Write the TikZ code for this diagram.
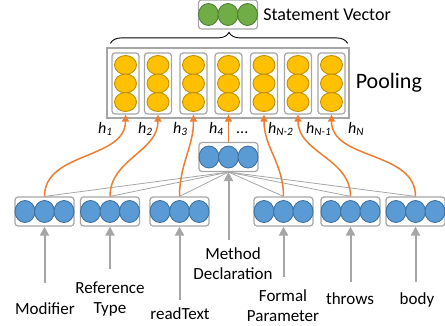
\documentclass[tikz,border=0pt]{standalone}
\usepackage{fontspec}
\setmainfont{Carlito}
\usetikzlibrary{positioning,arrows.meta,decorations.pathreplacing}

\definecolor{boxgray}{HTML}{A6A6A6}
\definecolor{linkorange}{HTML}{ED7D31}
\definecolor{cellblue}{HTML}{5B9BD5}
\definecolor{edgeblue}{HTML}{41719C}
\definecolor{cellyellow}{HTML}{FFC000}
\definecolor{edgeyellow}{HTML}{BF9000}
\definecolor{cellgreen}{HTML}{70AD47}
\definecolor{edgegreen}{HTML}{507E32}

\tikzset{
  vecbox/.style={draw=boxgray, line width=1.2pt, rounded corners=3pt, minimum width=59pt, minimum height=29pt, inner sep=0pt},
  colbox/.style={draw=boxgray, line width=1.2pt, rounded corners=3pt, minimum width=27pt, minimum height=61pt, inner sep=0pt},
  poolbox/.style={draw=boxgray, line width=1.2pt, minimum width=242pt, minimum height=70pt, inner sep=0pt},
  bluecell/.style={fill=cellblue, draw=edgeblue, line width=0.9pt},
  yellowcell/.style={fill=cellyellow, draw=edgeyellow, line width=0.9pt},
  greencell/.style={fill=cellgreen, draw=edgegreen, line width=0.9pt},
  lbl/.style={inner sep=0pt, font=\fontsize{17}{20}\selectfont, align=center},
  hlbl/.style={inner sep=0pt, font=\fontsize{16}{19}\selectfont\itshape, anchor=base west},
  inarrow/.style={draw=boxgray, line width=2pt, -{Triangle[width=9pt,length=9pt]}},
  fanline/.style={draw=boxgray, line width=0.8pt},
  hidarrow/.style={draw=linkorange, line width=1.5pt, -{Triangle[width=7pt,length=7pt]}},
}

\begin{document}
\begin{tikzpicture}[x=1pt,y=-1pt]

    \useasboundingbox (0,0) rectangle (445,325);

    % Statement vector
    \node[vecbox] (stmt) at (228,14.5) {};
    \foreach \dx in {-19.5,0,19.5}
        \draw[greencell] ([xshift=\dx pt]stmt.center) ellipse [x radius=10pt, y radius=11pt];
    \node[lbl, font=\fontsize{18}{21}\selectfont, right=5pt of stmt] (stmttxt) {Statement Vector};

    % Pooling layer
    \node[poolbox] (pool) at (228,83) {};
    \node[lbl, font=\fontsize{22}{26}\selectfont, right=6pt of pool] (pooltxt) {Pooling};

    \foreach \i/\x in {1/125.5,2/158,3/193.5,4/228.5,5/264,6/298,7/331.5} {
        \node[colbox] (col\i) at (\x,83.5) {};
        \foreach \y in {65,83.5,102}
            \draw[yellowcell] (\x,\y) ellipse [x radius=11pt, y radius=9.5pt];
    }

    %% Brace
    \draw[line width=0.9pt, decorate, decoration={brace, amplitude=11pt}]
        ([xshift=4pt,yshift=4pt]pool.north west) -- ([xshift=-2pt,yshift=4pt]pool.north east);

    % Method declaration
    \node[vecbox] (meth) at (228.5,157) {};

    % Children
    \foreach \name/\x in {mod/44.5,ref/110,read/179.5,formal/283.5,throws/350.5,body/415.5}
        \node[vecbox] (\name) at (\x,211.5) {};

    \foreach \name in {meth,mod,ref,read,formal,throws,body}
        \foreach \dx in {-19.5,0,19.5}
            \draw[bluecell] ([xshift=\dx pt]\name.center) ellipse [x radius=10pt, y radius=11pt];

    %% Fan lines
    \foreach \name in {mod,ref,read,formal,throws,body}
        \draw[fanline] (meth.south) -- (\name.north);

    % Hidden states
    \draw[hidarrow] (mod.north) to[out=90,in=-90] (col1.south);
    \draw[hidarrow] (ref.north) to[out=90,in=-90] (col2.south);
    \draw[hidarrow] (read.north) to[out=90,in=-90] (col3.south);
    \draw[hidarrow] (meth.north) -- (col4.south);
    \draw[hidarrow] (formal.north) to[out=90,in=-90] (col5.south);
    \draw[hidarrow] (throws.north) to[out=90,in=-90] (col6.south);
    \draw[hidarrow] (body.north) to[out=90,in=-90] (col7.south);

    \node[hlbl] (h1) at (98,133) {h\textsubscript{1}};
    \node[hlbl] (h2) at (138,133) {h\textsubscript{2}};
    \node[hlbl] (h3) at (173,133) {h\textsubscript{3}};
    \node[hlbl] (h4) at (209,133) {h\textsubscript{4}};
    \node[hlbl, font=\fontsize{16}{19}\selectfont] (hdots) at (236,133) {...};
    \node[hlbl] (hn2) at (268,133) {h\textsubscript{N-2}};
    \node[hlbl] (hn1) at (306,133) {h\textsubscript{N-1}};
    \node[hlbl] (hn) at (348,133) {h\textsubscript{N}};

    % Input labels
    \node[lbl, anchor=north] (modtxt) at (45,302) {Modifier};
    \node[lbl, anchor=north] (reftxt) at (110,282) {Reference\\Type};
    \node[lbl, anchor=north] (readtxt) at (180,307) {readText};
    \node[lbl, anchor=north] (methtxt) at (233,247) {Method\\Declaration};
    \node[lbl, anchor=north] (formaltxt) at (283,289) {Formal\\Parameter};
    \node[lbl, anchor=north] (throwstxt) at (350,292) {throws};
    \node[lbl, anchor=north] (bodytxt) at (417,292) {body};

    \draw[inarrow, shorten <=19pt] (mod.south |- modtxt.north) -- (mod.south);
    \draw[inarrow, shorten <=13pt] (ref.south |- reftxt.north) -- (ref.south);
    \draw[inarrow, shorten <=7pt] (read.south |- readtxt.north) -- (read.south);
    \draw[inarrow, shorten <=7pt] (meth.south |- methtxt.north) -- (meth.south);
    \draw[inarrow, shorten <=12pt] (formal.south |- formaltxt.north) -- (formal.south);
    \draw[inarrow, shorten <=10pt] (throws.south |- throwstxt.north) -- (throws.south);
    \draw[inarrow, shorten <=10pt] (body.south |- bodytxt.north) -- (body.south);

\end{tikzpicture}
\end{document}
